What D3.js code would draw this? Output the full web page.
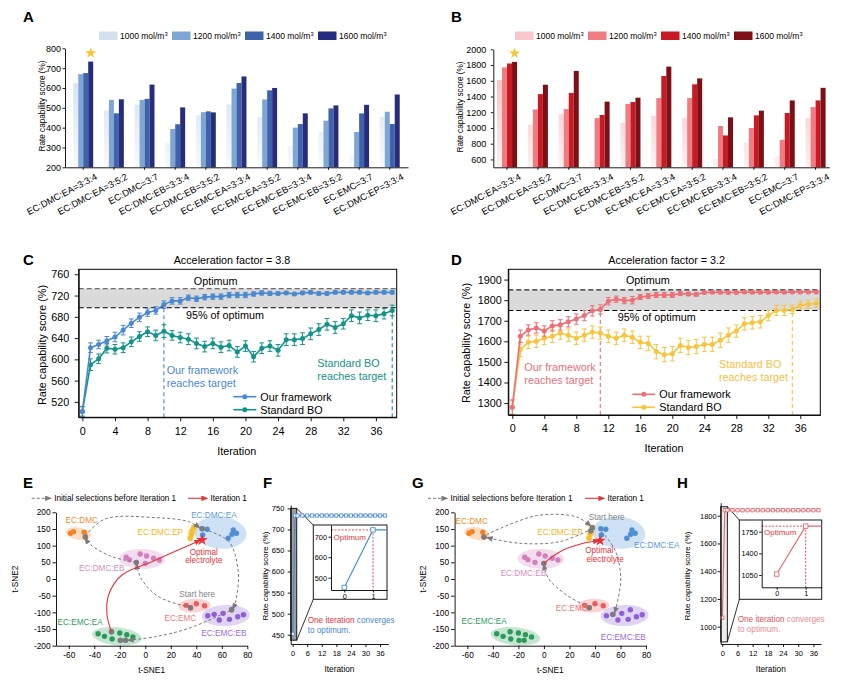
<!DOCTYPE html>
<html><head><meta charset="utf-8">
<script src="https://cdn.jsdelivr.net/npm/d3@7/dist/d3.min.js"></script>
<style>
html,body{margin:0;padding:0;background:#fff;}
svg{display:block;}
svg text{font-family:"Liberation Sans",Arial,Helvetica,sans-serif;}
</style></head><body>
<svg id="fig" width="850" height="683" viewBox="0 0 850 683"></svg>
<script>
// ================= DATA =================
const categories = ["EC:DMC:EA=3:3:4","EC:DMC:EA=3:5:2","EC:DMC=3:7","EC:DMC:EB=3:3:4","EC:DMC:EB=3:5:2","EC:EMC:EA=3:3:4","EC:EMC:EA=3:5:2","EC:EMC:EB=3:3:4","EC:EMC:EB=3:5:2","EC:EMC=3:7","EC:DMC:EP=3:3:4"];
const concentrations = ["1000","1200","1400","1600"];
// Panel A
const scoreA1000 = [625,485,515,322,462,517,453,308,380,258,455];
const scoreA1200 = [670,540,540,393,478,597,542,400,435,378,480];
const scoreA1400 = [675,472,545,417,482,625,588,418,497,472,418];
const scoreA1600 = [733,543,617,502,477,658,600,472,512,515,567];
const yTicksA = [200,300,400,500,600,700,800];
// Panel B
const scoreB1000 = [1610,1040,1175,580,1065,1155,1125,605,815,640,1125];
const scoreB1200 = [1770,1235,1240,1125,1305,1380,1380,1025,1000,850,1265];
const scoreB1400 = [1820,1430,1445,1165,1330,1660,1555,905,1160,1190,1350];
const scoreB1600 = [1840,1550,1725,1335,1385,1780,1630,1135,1220,1350,1510];
const yTicksB = [600,800,1000,1200,1400,1600,1800,2000];
// Panels C, D
const iterations = [0,1,2,3,4,5,6,7,8,9,10,11,12,13,14,15,16,17,18,19,20,21,22,23,24,25,26,27,28,29,30,31,32,33,34,35,36,37,38];
const oursC    = [502,622,628,635,642,655,668,679,688,692, 703,710,710,716,714,717,718,718,721,721, 721,723,725,724,724,725,723,725,726,724, 724,726,726,726,726,725,726,726,726];
const oursCErr = [9,9,8,8,9,9,8,8,7,7, 7,6,6,5,5,5,5,5,5,5, 5,4,4,4,3,3,3,3,3,3, 3,3,3,3,3,3,3,3,3];
const boC      = [502,590,601,621,619,622,633,643,652,645, 653,645,641,638,630,624,630,623,626,614, 625,605,621,625,617,637,637,639,648,656, 666,660,667,682,678,683,682,686,692];
const boCErr   = [9,11,9,9,9,9,9,9,9,10, 12,9,10,10,10,10,10,10,10,10, 10,10,10,10,11,11,11,11,11,11, 11,11,10,11,11,10,11,10,10];
const oursD    = [1280,1625,1655,1665,1650,1675,1680,1695,1708,1725, 1748,1755,1795,1805,1798,1800,1815,1820,1825,1825, 1825,1832,1830,1828,1837,1838,1838,1837,1837,1840, 1838,1838,1838,1840,1838,1840,1840,1840,1840];
const oursDErr = [35,30,25,25,25,25,25,25,25,25, 25,22,18,15,15,18,12,12,12,12, 12,8,8,8,6,6,6,6,6,6, 6,6,6,6,6,6,6,6,6];
const boD      = [1280,1560,1595,1600,1615,1625,1640,1630,1615,1630, 1645,1640,1625,1615,1630,1620,1595,1590,1550,1535, 1540,1580,1570,1575,1585,1585,1605,1630,1650,1685, 1690,1695,1725,1750,1750,1755,1775,1780,1785];
const boDErr   = [35,35,30,30,30,30,30,30,30,30, 30,30,30,30,30,30,30,35,35,35, 35,35,35,35,35,35,35,35,30,30, 30,30,25,25,25,20,20,20,20];
const xTicksCD = [0,4,8,12,16,20,24,28,32,36];
const yTicksC = [520,560,600,640,680,720,760];
const yTicksD = [1300,1400,1500,1600,1700,1800,1900];
const optimumC = 733, targetC = 697, reachC = [10, 38];
const optimumD = 1850, targetD = 1750, reachD = [11, 35];
// Panels E, G (t-SNE)
const tsneXTicks = [-60,-40,-20,0,20,40,60,80];
const tsneYTicks = [-200,-150,-100,-50,0,50,100,150,200];
const clusterNames = ["EC:DMC","EC:DMC:EA","EC:DMC:EP","EC:DMC:EB","EC:EMC","EC:EMC:EB","EC:EMC:EA"];
const clusterPoints = [
  [[-58.7,137],[-56.3,142],[-47.9,140],[-47,126]],
  [[45,132],[48.5,149],[65,122],[68,134],[69,147],[71.5,137],[44.6,151]],
  [[35.4,122],[36.2,134],[36.7,144],[38,154]],
  [[-15,65],[-12.5,58],[-7,50],[-4,75],[1,69],[0,47],[6.5,62],[11,57]],
  [[32,-79],[35.5,-86],[40,-74],[46.5,-80]],
  [[49,-110],[54,-106],[58,-123],[61,-103],[66,-121],[67.7,-92],[72.5,-113],[77,-107]],
  [[-37,-164],[-32,-172],[-26.5,-158],[-26,-180],[-20,-162],[-19.5,-184],[-15.5,-184],[-14.5,-167],[-9.7,-174]]
];
const selectedE = [[35.5,-86],[-7,50],[-47,126],[44.6,151],[67.7,-92],[-26.5,-158],[-19.5,-184],[-15.5,-184]];
const selectedG = [[36.7,144],[38,154],[-47,126],[0,47],[35.5,-86],[54,-106]];
const optimalE = [44.5,117], optimalG = [44,115];
const routeE = [
  [[35.5,-86],[10,-52],[-3,0],[-7,45]],
  [[-7,50],[-26,67],[-43,103],[-47,122]],
  [[-47,130],[-31.5,180],[8,184],[34,172],[42.5,154]],
  [[46,149],[65.6,112],[72.9,22],[70.8,-68],[68.5,-89]],
  [[66.5,-95],[34,-148],[8,-173],[-13.5,-184]]
];
const iterRouteE = [[-26.5,-158],[-30,-108],[-28.8,-48],[-18.3,12],[5.3,52],[28.9,92],[43,116]];
const routeG = [
  [[38,151],[12.6,112],[-18.7,107],[-44.5,124]],
  [[-45,133],[-5.7,190],[25.7,186],[36.5,159]],
  [[45,143],[55.7,87],[60.2,-3],[55.5,-101]],
  [[35.5,-86],[17.8,-48],[3.5,2],[0,44]]
];
const iterRouteG = [[0,47],[12.6,82],[30.9,107],[43,114.5]];
// Panels F, H
const iterFH = [0,1,2,4,6,8,10,12,14,16,18,20,22,24,26,28,30,32,34,36,38];
const scoreF = [452,733,733,733,733,733,733,733,733,733,733,733,733,733,733,733,733,733,733,733,733];
const scoreH = [1065,1840,1840,1840,1840,1840,1840,1840,1840,1840,1840,1840,1840,1840,1840,1840,1840,1840,1840,1840,1840];
const xTicksFH = [0,6,12,18,24,30,36];
const yTicksF = [450,500,550,600,650,700,750];
const yTicksH = [1000,1200,1400,1600,1800];
const insetTicksF = [500,600,700], insetTicksH = [1050,1400,1750];
const optimumF = 733, optimumH = 1840;

// ================= DRAWING =================
const FONT = '"Liberation Sans", Arial, Helvetica, sans-serif';
const fmt = d3.format("d");
const svg = d3.select("#fig");
const defs = svg.append("defs");

function styleAxis(sel, size) {
  sel.attr("font-family", FONT).attr("font-size", size);
  sel.selectAll("path.domain").attr("stroke", "#000").attr("stroke-width", 0.9);
  sel.selectAll(".tick line").attr("stroke", "#000").attr("stroke-width", 0.9);
  sel.selectAll(".tick text").attr("fill", "#000");
}
function label(parent, x, y, s, o = {}) {
  const t = parent.append("text").attr("x", x).attr("y", y).text(s)
    .attr("font-size", o.size || 9).attr("fill", o.color || "#000")
    .attr("text-anchor", o.anchor || "start");
  if (o.weight) t.attr("font-weight", o.weight);
  if (o.rotate) t.attr("transform", `rotate(${o.rotate},${x},${y})`);
  return t;
}
function marker(id, color) {
  defs.append("marker").attr("id", id).attr("viewBox", "0 0 10 8").attr("refX", 8).attr("refY", 4)
    .attr("markerWidth", 7).attr("markerHeight", 5.6).attr("markerUnits", "userSpaceOnUse").attr("orient", "auto")
    .append("path").attr("d", "M0,0L10,4L0,8Z").attr("fill", color);
}
marker("arrGrey", "#7b7b7b");
marker("arrRed", "#e2353c");

// Panel letters
[["A",23,22],["B",451,22],["C",23,265],["D",451,265],["E",23,488],["F",263,488],["G",412,488],["H",677,488]]
  .forEach(([s,x,y]) => label(svg, x, y, s, {size:15, weight:"bold"}));

// ---------- Bar panels ----------
function barPanel(o) {
  const g = svg.append("g");
  const x0 = d3.scaleBand().domain(categories).range(o.xr).paddingInner(0.35).paddingOuter(o.po);
  const x1 = d3.scaleBand().domain(concentrations).range([0, x0.bandwidth()]);
  const y = d3.scaleLinear().domain(o.ydom).range(o.yr);
  const grad = defs.append("linearGradient").attr("id", o.id + "grad").attr("gradientUnits", "userSpaceOnUse")
    .attr("x1", 0).attr("x2", 0).attr("y1", o.yr[1]).attr("y2", o.yr[0]);
  grad.append("stop").attr("offset", 0).attr("stop-color", o.colors[0]);
  grad.append("stop").attr("offset", 1).attr("stop-color", o.fade);
  o.series.forEach((vals, ci) => {
    g.append("g").selectAll("rect").data(vals).join("rect")
      .attr("x", (d, i) => x0(categories[i]) + x1(concentrations[ci]))
      .attr("y", d => y(d)).attr("width", x1.bandwidth())
      .attr("height", d => y(o.ydom[0]) - y(d))
      .attr("fill", ci === 0 ? `url(#${o.id}grad)` : o.colors[ci]);
  });
  const ya = g.append("g").attr("transform", `translate(${o.xr[0]},0)`)
    .call(d3.axisLeft(y).tickValues(o.yticks).tickFormat(fmt).tickSize(2.5).tickSizeOuter(0).tickPadding(o.tp));
  styleAxis(ya, 9);
  const xa = g.append("g").attr("transform", `translate(0,${o.yr[0]})`)
    .call(d3.axisBottom(x0).tickSize(2.5).tickSizeOuter(0));
  xa.selectAll(".tick text").remove();
  styleAxis(xa, 9);
  g.append("g").selectAll("text").data(categories).join("text")
    .attr("transform", d => `translate(${x0(d) + x0.bandwidth() / 2 + 14.5},${o.yr[0] + 11.5}) rotate(-28)`)
    .attr("text-anchor", "end").attr("font-size", 9.3).attr("fill", "#000").text(d => d);
  g.append("path").attr("d", d3.symbol(d3.symbolStar, 38)())
    .attr("transform", `translate(${x0(categories[0]) + x1("1600") + x1.bandwidth() / 2},${y(o.series[3][0]) - 8.5})`)
    .attr("fill", "#f7c531");
  concentrations.forEach((c, i) => {
    const lx = o.legX + i * 73;
    g.append("rect").attr("x", lx).attr("y", 31.5).attr("width", 18.5).attr("height", 8.5)
      .attr("fill", i === 0 ? o.legend0 : o.colors[i]);
    const t = g.append("text").attr("x", lx + 21).attr("y", 39.3).attr("font-size", 8.5).attr("fill", "#000");
    t.append("tspan").text(c + " mol/m");
    t.append("tspan").attr("font-size", 5.8).attr("dy", -3.5).text("3");
  });
  label(g, o.ylabX, o.ylabY, "Rate capability score (%)", {size: 8.2, anchor: "middle", rotate: -90});
}
barPanel({id: "A", xr: [65, 408], po: 0.27, yr: [167.3, 48.3], ydom: [200, 800], yticks: yTicksA, tp: 1.5,
  series: [scoreA1000, scoreA1200, scoreA1400, scoreA1600],
  colors: ["#c9daec", "#7ea6d2", "#3e62ac", "#282c7c"], fade: "#f7f9fc", legend0: "#d3e1ef",
  legX: 99, ylabX: 44.5, ylabY: 106});
barPanel({id: "B", xr: [493.3, 829.3], po: 0.12, yr: [167.3, 49.3], ydom: [500, 2000], yticks: yTicksB, tp: 4.5,
  series: [scoreB1000, scoreB1200, scoreB1400, scoreB1600],
  colors: ["#f4b6bc", "#ef7c80", "#c81a22", "#7c1016"], fade: "#fdf1f2", legend0: "#f8c8cc",
  legX: 515, ylabX: 463, ylabY: 107});

// ---------- Convergence panels ----------
function convPanel(o) {
  const g = svg.append("g");
  const x = d3.scaleLinear().domain(o.xdom).range(o.xr);
  const y = d3.scaleLinear().domain(o.ydom).range(o.yr);
  const [L, R] = o.xr, [B, T] = o.yr;
  g.append("rect").attr("x", L).attr("y", y(o.opt)).attr("width", R - L).attr("height", y(o.target) - y(o.opt)).attr("fill", "#dadada");
  g.append("line").attr("x1", L).attr("x2", R).attr("y1", y(o.opt)).attr("y2", y(o.opt))
    .attr("stroke", o.optStroke).attr("stroke-width", 1.1).attr("stroke-dasharray", "5,3");
  g.append("line").attr("x1", L).attr("x2", R).attr("y1", y(o.target)).attr("y2", y(o.target))
    .attr("stroke", "#000").attr("stroke-width", 1.1).attr("stroke-dasharray", "5,3");
  label(g, o.optLab[0], o.optLab[1], "Optimum", {size: 10.8, anchor: "middle"});
  label(g, o.tgtLab[0], o.tgtLab[1], "95% of optimum", {size: 10.8, anchor: "middle"});
  [[o.reach[0], o.ours, o.cOurs], [o.reach[1], o.bo, o.cBo]].forEach(([it, v, c]) => {
    g.append("line").attr("x1", x(it)).attr("x2", x(it)).attr("y1", B).attr("y2", y(v[iterations.indexOf(it)]))
      .attr("stroke", c).attr("stroke-width", 1.1).attr("stroke-dasharray", "4,3");
  });
  const line = d3.line().x((d, i) => x(iterations[i])).y(d => y(d));
  [[o.bo, o.boErr, o.cBo], [o.ours, o.oursErr, o.cOurs]].forEach(([v, e, c]) => {
    const s = g.append("g");
    s.append("path").attr("d", line(v)).attr("fill", "none").attr("stroke", c).attr("stroke-width", 1.6);
    s.selectAll("path.err").data(v).join("path").attr("class", "err")
      .attr("d", (d, i) => {
        const xx = x(iterations[i]), y1 = y(d + e[i]), y2 = y(d - e[i]);
        return `M${xx - 2.4},${y1}H${xx + 2.4}M${xx},${y1}V${y2}M${xx - 2.4},${y2}H${xx + 2.4}`;
      })
      .attr("stroke", c).attr("stroke-width", 1).attr("fill", "none");
    s.selectAll("circle").data(v).join("circle")
      .attr("cx", (d, i) => x(iterations[i])).attr("cy", d => y(d)).attr("r", 2.5).attr("fill", c);
  });
  g.append("rect").attr("x", L).attr("y", T).attr("width", R - L).attr("height", B - T)
    .attr("fill", "none").attr("stroke", "#000").attr("stroke-width", 1);
  const ya = g.append("g").attr("transform", `translate(${L},0)`)
    .call(d3.axisLeft(y).tickValues(o.yticks).tickFormat(fmt).tickSize(4).tickSizeOuter(0).tickPadding(o.ytp));
  styleAxis(ya, 10.8);
  const xa = g.append("g").attr("transform", `translate(0,${B})`)
    .call(d3.axisBottom(x).tickValues(xTicksCD).tickFormat(fmt).tickSize(4).tickSizeOuter(0).tickPadding(o.xtp));
  styleAxis(xa, 10.8);
  label(g, o.titleX, o.titleY, o.title, {size: 10.8, anchor: "middle"});
  label(g, o.iterLab[0], o.iterLab[1], "Iteration", {size: 10.8, anchor: "middle"});
  label(g, o.ylab[0], o.ylab[1], "Rate capability score (%)", {size: 10.8, anchor: "middle", rotate: -90});
  label(g, o.oursTxt[0], o.oursTxt[1], "Our framework", {size: 10.8, color: o.cOursTxt});
  label(g, o.oursTxt[0], o.oursTxt[1] + 12.7, "reaches target", {size: 10.8, color: o.cOursTxt});
  label(g, o.boTxt[0], o.boTxt[1], "Standard BO", {size: 10.8, color: o.cBoTxt});
  label(g, o.boTxt[0], o.boTxt[1] + 13.3, "reaches target", {size: 10.8, color: o.cBoTxt});
  [[o.cOurs, "Our framework", o.leg[1]], [o.cBo, "Standard BO", o.leg[1] + 13]].forEach(([c, t, yy]) => {
    g.append("line").attr("x1", o.leg[0]).attr("x2", o.leg[0] + 23).attr("y1", yy).attr("y2", yy).attr("stroke", c).attr("stroke-width", 1.6);
    g.append("circle").attr("cx", o.leg[0] + 11.5).attr("cy", yy).attr("r", 2.5).attr("fill", c);
    label(g, o.leg[0] + 27, yy + 3.8, t, {size: 10.8});
  });
}
convPanel({xr: [78.7, 396.7], yr: [417.3, 269.3], xdom: [-0.45, 38.55], ydom: [491, 769.4], yticks: yTicksC,
  ours: oursC, oursErr: oursCErr, bo: boC, boErr: boCErr, cOurs: "#4a88cf", cBo: "#14938a",
  cOursTxt: "#4a88cf", cBoTxt: "#14938a", optStroke: "#6e6e6e",
  opt: optimumC, target: targetC, reach: reachC, ytp: 5.5, xtp: 6,
  optLab: [215.7, 284.5], tgtLab: [225, 318.5], title: "Acceleration factor = 3.8", titleX: 232, titleY: 263.5,
  iterLab: [236.7, 455], ylab: [45.5, 345], oursTxt: [166.7, 374], boTxt: [317.3, 367], leg: [233.3, 396.7]});
convPanel({xr: [508.3, 820.3], yr: [415, 269.3], xdom: [-0.5, 38.5], ydom: [1242, 1950], yticks: yTicksD,
  ours: oursD, oursErr: oursDErr, bo: boD, boErr: boDErr, cOurs: "#ec7078", cBo: "#f7c53c",
  cOursTxt: "#ec7078", cBoTxt: "#f5c043", optStroke: "#222",
  opt: optimumD, target: targetD, reach: reachD, ytp: 2.5, xtp: 5.5,
  optLab: [647.8, 283.5], tgtLab: [656.7, 320.5], title: "Acceleration factor = 3.2", titleX: 666.7, titleY: 264,
  iterLab: [664, 452], ylab: [470, 343], oursTxt: [524.3, 371], boTxt: [719, 367.5], leg: [632.3, 394.3]});

// ---------- t-SNE panels ----------
const clusterStyle = {
  "EC:DMC":    {color: "#f58220", text: "#f28c28", pad: [5, 4]},
  "EC:DMC:EA": {color: "#4f8fd6", text: "#5b9bd5", pad: [8, 11]},
  "EC:DMC:EP": {color: "#f5c02a", text: "#efb820", pad: [4, 4]},
  "EC:DMC:EB": {color: "#d27fbd", text: "#d98cc4", pad: [6, 5]},
  "EC:EMC":    {color: "#ef5b5b", text: "#f07b7b", pad: [6, 5]},
  "EC:EMC:EB": {color: "#8e5fd6", text: "#9b6ad8", pad: [6, 5]},
  "EC:EMC:EA": {color: "#2a9a58", text: "#2f9e5e", pad: [6, 5]}
};
function tsnePanel(o) {
  const g = svg.append("g");
  const x = d3.scaleLinear().domain([-70, 80]).range(o.xr);
  const y = d3.scaleLinear().domain([-200, 200]).range([645.7, 512.3]);
  clusterNames.forEach((name, ci) => {
    const st = clusterStyle[name];
    const pts = clusterPoints[ci].map(p => [x(p[0]), y(p[1])]);
    const mx = d3.mean(pts, p => p[0]), my = d3.mean(pts, p => p[1]);
    let sxx = 0, syy = 0, sxy = 0;
    pts.forEach(p => { const dx = p[0] - mx, dy = p[1] - my; sxx += dx * dx; syy += dy * dy; sxy += dx * dy; });
    const th = 0.5 * Math.atan2(2 * sxy, sxx - syy), c = Math.cos(th), s = Math.sin(th);
    let ru = 0, rv = 0;
    pts.forEach(p => { const dx = p[0] - mx, dy = p[1] - my;
      ru = Math.max(ru, Math.abs(dx * c + dy * s)); rv = Math.max(rv, Math.abs(-dx * s + dy * c)); });
    g.append("ellipse").attr("cx", mx).attr("cy", my).attr("rx", ru + st.pad[0]).attr("ry", rv + st.pad[1])
      .attr("transform", `rotate(${th * 180 / Math.PI},${mx},${my})`)
      .attr("fill", st.color).attr("fill-opacity", 0.27);
  });
  clusterNames.forEach((name, ci) => {
    g.append("g").selectAll("circle").data(clusterPoints[ci]).join("circle")
      .attr("cx", d => x(d[0])).attr("cy", d => y(d[1])).attr("r", 2.7).attr("fill", clusterStyle[name].color);
  });
  g.append("g").selectAll("circle").data(o.selected).join("circle")
    .attr("cx", d => x(d[0])).attr("cy", d => y(d[1])).attr("r", 2.7).attr("fill", "#7d7d7d");
  const curve = d3.line().x(d => x(d[0])).y(d => y(d[1])).curve(d3.curveCatmullRom.alpha(0.5));
  o.routes.forEach(r => g.append("path").attr("d", curve(r)).attr("fill", "none").attr("stroke", "#7b7b7b")
    .attr("stroke-width", 1).attr("stroke-dasharray", "3,2.2").attr("marker-end", "url(#arrGrey)"));
  g.append("path").attr("d", curve(o.iterRoute)).attr("fill", "none").attr("stroke", "#e2353c")
    .attr("stroke-width", 1.1).attr("marker-end", "url(#arrRed)");
  g.append("path").attr("d", d3.symbol(d3.symbolStar, 42)())
    .attr("transform", `translate(${x(o.optimal[0])},${y(o.optimal[1])})`).attr("fill", "#e8303a");
  o.labels.forEach(([t, lx, ly, col]) => {
    g.append("text").attr("x", x(lx)).attr("y", y(ly)).attr("dy", "0.35em").attr("text-anchor", "middle")
      .attr("font-size", 8.2).attr("fill", col || clusterStyle[t].text).text(t);
  });
  const ya = g.append("g").attr("transform", `translate(${o.xr[0]},0)`)
    .call(d3.axisLeft(y).tickValues(tsneYTicks).tickSize(3.5).tickSizeOuter(0).tickPadding(2).tickFormat(fmt));
  styleAxis(ya, 8.3);
  const xa = g.append("g").attr("transform", `translate(0,645.7)`)
    .call(d3.axisBottom(x).tickValues(tsneXTicks).tickSize(3.5).tickSizeOuter(0).tickPadding(3).tickFormat(fmt));
  styleAxis(xa, 8.3);
  g.selectAll(".tick text").text(function () { return this.textContent.replace("\u2212", "-"); });
  label(g, (o.xr[0] + o.xr[1]) / 2, 673, "t-SNE1", {size: 8.3, anchor: "middle"});
  label(g, o.ylabX, 579, "t-SNE2", {size: 8.3, anchor: "middle", rotate: -90});
  g.append("line").attr("x1", o.leg[0]).attr("x2", o.leg[0] + 19).attr("y1", 498.3).attr("y2", 498.3)
    .attr("stroke", "#7b7b7b").attr("stroke-width", 1).attr("stroke-dasharray", "3,2").attr("marker-end", "url(#arrGrey)");
  label(g, o.leg[0] + 22.5, 501.3, "Initial selections before Iteration 1", {size: 8.2});
  g.append("line").attr("x1", o.leg[1]).attr("x2", o.leg[1] + 19).attr("y1", 498.3).attr("y2", 498.3)
    .attr("stroke", "#e2353c").attr("stroke-width", 1.1).attr("marker-end", "url(#arrRed)");
  label(g, o.leg[1] + 22.5, 501.3, "Iteration 1", {size: 8.2});
}
tsnePanel({xr: [56, 247.3], ylabX: 18, leg: [31.7, 188], selected: selectedE, routes: routeE, iterRoute: iterRouteE, optimal: optimalE,
  labels: [["EC:DMC", -49.8, 177], ["EC:DMC:EA", 53.8, 192], ["EC:DMC:EP", 11.8, 142], ["EC:DMC:EB", -34.1, 32],
    ["EC:EMC", 27.5, -116], ["EC:EMC:EA", -51.1, -130], ["EC:EMC:EB", 61.6, -163],
    ["Start here", 40.7, -46, "#858585"], ["Optimal", 45.9, 82, "#e2353c"], ["electrolyte", 45.9, 57, "#e2353c"]]});
tsnePanel({xr: [454.6, 646], ylabX: 426, leg: [428, 585], selected: selectedG, routes: routeG, iterRoute: iterRouteG, optimal: optimalG,
  labels: [["EC:DMC", -56.6, 174], ["EC:DMC:EA", 88.4, 102], ["EC:DMC:EP", 12.6, 140], ["EC:DMC:EB", -16.1, 17],
    ["EC:EMC", 21.8, -88], ["EC:EMC:EA", -46.9, -125], ["EC:EMC:EB", 62.2, -173],
    ["Start here", 49.2, 187, "#858585"], ["Optimal", 43.4, 87, "#e2353c"], ["electrolyte", 47.9, 59, "#e2353c"]]});

// ---------- One-iteration panels ----------
function onePanel(o) {
  const g = svg.append("g");
  const x = d3.scaleLinear().domain(o.xdom).range(o.xr);
  const y = d3.scaleLinear().domain(o.ydom).range(o.yr);
  const zx0 = x(o.zoomX[0]), zx1 = x(o.zoomX[1]), zy0 = y(o.zoomY[0]), zy1 = y(o.zoomY[1]);
  g.append("rect").attr("x", zx0).attr("y", zy1).attr("width", zx1 - zx0).attr("height", zy0 - zy1)
    .attr("fill", o.zoomFill).attr("stroke", "#1a1a1a").attr("stroke-width", 1);
  const [bx0, by0, bx1, by1] = o.box;
  g.append("line").attr("x1", zx1).attr("y1", zy1).attr("x2", bx0).attr("y2", by0).attr("stroke", "#1a1a1a").attr("stroke-width", 0.9);
  g.append("line").attr("x1", zx1).attr("y1", zy0).attr("x2", bx0).attr("y2", by1).attr("stroke", "#1a1a1a").attr("stroke-width", 0.9);
  const line = d3.line().x((d, i) => x(iterFH[i])).y(d => y(d));
  g.append("path").attr("d", line(o.vals)).attr("fill", "none").attr("stroke", o.color).attr("stroke-width", 1.1);
  g.append("g").selectAll("path").data(o.vals).join("path").attr("d", d3.symbol(d3.symbolSquare, 11)())
    .attr("transform", (d, i) => `translate(${x(iterFH[i])},${y(d)})`)
    .attr("fill", "#fff").attr("stroke", o.color).attr("stroke-width", 0.9);
  const ya = g.append("g").attr("transform", `translate(${o.xr[0]},0)`)
    .call(d3.axisLeft(y).tickValues(o.yticks).tickFormat(fmt).tickSize(3).tickSizeOuter(0).tickPadding(o.ytp));
  styleAxis(ya, 7.5);
  const xa = g.append("g").attr("transform", `translate(0,${o.yr[0]})`)
    .call(d3.axisBottom(x).tickValues(xTicksFH).tickFormat(fmt).tickSize(3).tickSizeOuter(0).tickPadding(3.5));
  styleAxis(xa, 7.5);
  label(g, (o.xr[0] + o.xr[1]) / 2, 671.5, "Iteration", {size: 8.3, anchor: "middle"});
  label(g, o.ylabX, 576, "Rate capability score (%)", {size: 8, anchor: "middle", rotate: -90});
  g.append("rect").attr("x", bx0).attr("y", by0).attr("width", bx1 - bx0).attr("height", by1 - by0)
    .attr("fill", "#fff").attr("stroke", "#1a1a1a").attr("stroke-width", 1);
  const ix = d3.scaleLinear().domain(o.ixdom).range([o.iax[0], bx1]);
  const iy = d3.scaleLinear().domain(o.iydom).range([o.iax[1], by0]);
  const cid = "clip" + o.id;
  defs.append("clipPath").attr("id", cid).append("rect")
    .attr("x", o.iax[0]).attr("y", by0).attr("width", bx1 - o.iax[0]).attr("height", o.iax[1] - by0);
  const ig = g.append("g").attr("clip-path", `url(#${cid})`);
  ig.append("line").attr("x1", o.iax[0]).attr("x2", ix(1)).attr("y1", iy(o.opt)).attr("y2", iy(o.opt))
    .attr("stroke", "#e2353c").attr("stroke-width", 0.9).attr("stroke-dasharray", "2,1.5");
  ig.append("line").attr("x1", ix(1)).attr("x2", ix(1)).attr("y1", iy(o.opt)).attr("y2", o.iax[1])
    .attr("stroke", "#e2353c").attr("stroke-width", 0.9).attr("stroke-dasharray", "2,1.5");
  const iline = d3.line().x((d, i) => ix(iterFH[i])).y(d => iy(d));
  ig.append("path").attr("d", iline(o.vals)).attr("fill", "none").attr("stroke", o.color).attr("stroke-width", 1.1);
  ig.append("g").selectAll("path").data(o.vals).join("path").attr("d", d3.symbol(d3.symbolSquare, 20)())
    .attr("transform", (d, i) => `translate(${ix(iterFH[i])},${iy(d)})`)
    .attr("fill", "#fff").attr("stroke", o.color).attr("stroke-width", 0.9);
  const iya = g.append("g").attr("transform", `translate(${o.iax[0]},0)`)
    .call(d3.axisLeft(iy).tickValues(o.iticks).tickFormat(fmt).tickSize(2.5).tickSizeOuter(0).tickPadding(1.5));
  styleAxis(iya, 7.3);
  const ixa = g.append("g").attr("transform", `translate(0,${o.iax[1]})`)
    .call(d3.axisBottom(ix).tickValues([0, 1]).tickFormat(fmt).tickSize(2.5).tickSizeOuter(0).tickPadding(1.5));
  styleAxis(ixa, 7.3);
  label(g, o.optLab[0], o.optLab[1], "Optimum", {size: 8, color: "#e2353c"});
  const t1 = g.append("text").attr("x", o.txt[0]).attr("y", o.txt[1]).attr("font-size", 8.2);
  t1.append("tspan").attr("fill", o.c1).text("One iteration");
  t1.append("tspan").attr("fill", o.c2).text(" converges");
  label(g, o.txt[0], o.txt[1] + 10, "to optimum.", {size: 8.2, color: o.c2});
}
onePanel({id: "F", xr: [290.7, 388.3], yr: [644, 505], xdom: [-0.8, 39.4], ydom: [428, 758], yticks: yTicksF, ytp: 3.4,
  vals: scoreF, color: "#4a88cf", zoomX: [-0.8, 1.67], zoomY: [437, 750], zoomFill: "#9c9c9c",
  box: [313.3, 525, 387, 599.3], iax: [331, 590], ixdom: [-0.463, 1.488], iydom: [440, 757], iticks: insetTicksF,
  opt: optimumF, optLab: [333.5, 540], txt: [307.7, 623], c1: "#e2353c", c2: "#4a88cf", ylabX: 268});
onePanel({id: "H", xr: [720.7, 821], yr: [644, 502.7], xdom: [-0.63, 39], ydom: [875, 1894], yticks: yTicksH, ytp: 1,
  vals: scoreH, color: "#e8666e", zoomX: [-0.63, 2.0], zoomY: [890, 1865], zoomFill: "#ececec",
  box: [739.3, 520, 821.7, 599.3], iax: [761.7, 587.3], ixdom: [-0.517, 1.552], iydom: [851, 1939], iticks: insetTicksH,
  opt: optimumH, optLab: [764, 535], txt: [737.7, 621.5], c1: "#e0525a", c2: "#ef8a90", ylabX: 690});
</script></body></html>
